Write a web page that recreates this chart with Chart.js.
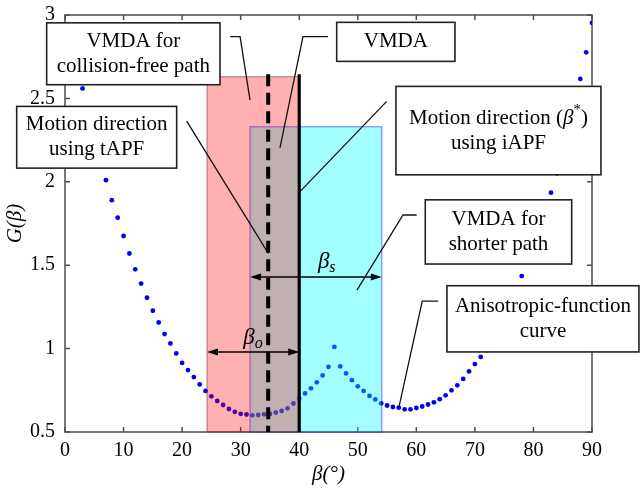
<!DOCTYPE html>
<html>
<head>
<meta charset="utf-8">
<script src="https://cdn.jsdelivr.net/npm/chart.js@4.4.1/dist/chart.umd.min.js"></script>
<style>
  html, body { margin: 0; padding: 0; background: #fff; }
  #wrap { width: 640px; height: 492px; }
</style>
</head>
<body>
<div id="wrap"><canvas id="chart" width="640" height="492"></canvas></div>
<script>
// anisotropic function samples, one per degree
const betaDeg = [0, 1, 2, 3, 4, 5, 6, 7, 8, 9, 10, 11, 12, 13, 14, 15, 16, 17, 18, 19, 20,
    21, 22, 23, 24, 25, 26, 27, 28, 29, 30, 31, 32, 33, 34, 35, 36, 37, 38, 39, 40,
    41, 42, 43, 44, 45, 46, 47, 48, 49, 50, 51, 52, 53, 54, 55, 56, 57, 58, 59, 60,
    61, 62, 63, 64, 65, 66, 67, 68, 69, 70, 71, 72, 73, 74, 75, 76, 77, 78, 79, 80,
    81, 82, 83, 84, 85, 86, 87, 88, 89, 90];
const gValues = [3.07, 2.89, 2.72, 2.56, 2.40, 2.26, 2.13, 2.01, 1.89, 1.785, 1.675,
    1.57, 1.475, 1.39, 1.305, 1.227, 1.157, 1.087, 1.031, 0.971, 0.914,
    0.871, 0.829, 0.785, 0.746, 0.714, 0.686, 0.662, 0.638, 0.621, 0.609,
    0.605, 0.600, 0.602, 0.606, 0.608, 0.617, 0.626, 0.642, 0.671, 0.70,
    0.731, 0.762, 0.798, 0.839, 0.890, 1.010, 0.893, 0.851, 0.811, 0.774,
    0.746, 0.716, 0.695, 0.672, 0.659, 0.650, 0.646, 0.636, 0.636, 0.644,
    0.653, 0.665, 0.678, 0.697, 0.720, 0.750, 0.780, 0.818, 0.863, 0.907,
    0.950, 0.99, 1.04, 1.10, 1.17, 1.25, 1.34, 1.435, 1.52, 1.61,
    1.71, 1.82, 1.935, 2.05, 2.17, 2.30, 2.45, 2.617, 2.776, 2.953];

const xTickValues = [0, 10, 20, 30, 40, 50, 60, 70, 80, 90];
const yTickValues = [0.5, 1, 1.5, 2, 2.5, 3];
const yTickLabels = ['0.5', '1', '1.5', '2', '2.5', '3'];

// VMDA regions [from, to] in degrees and their heights
const collisionFreeRange = [24.25, 40];
const collisionFreeTop = 2.63;
const shorterPathRange = [31.6, 54.1];
const shorterPathTop = 2.33;

// motion directions
const tapfDirection = 34.7;
const iapfDirection = 40;
const directionTop = 2.645;

// levels of the beta_o / beta_s span arrows
const betaOLevel = 0.98;
const betaSLevel = 1.43;

const SERIF = "'Liberation Serif', 'DejaVu Serif', serif";
Chart.defaults.font.family = SERIF;

// callout boxes in data units: box = [x1, x2, yTop, yBottom]
const callouts = [
    { lines: [[{ t: 'VMDA for' }], [{ t: 'collision-free path' }]],
      box: [-3.13, 26.47, 2.953, 2.582], leader: [[28.2, 2.87], [29.9, 2.87], [31.6, 2.49]] },
    { lines: [[{ t: 'VMDA' }]],
      box: [46.4, 66.6, 2.956, 2.722], leader: [[44.9, 2.87], [40.64, 2.87], [36.71, 2.204]] },
    { lines: [[{ t: 'Motion direction' }], [{ t: 'using tAPF' }]],
      box: [-8.25, 19.07, 2.452, 2.082], leader: [[20.78, 2.364], [34.72, 1.571]] },
    { lines: [[{ t: 'Motion direction (' }, { t: 'β', italic: true }, { t: '*', size: 15, dy: -8 }, { t: ')' }],
              [{ t: 'using iAPF' }]],
      box: [56.52, 91.53, 2.572, 2.042], leader: [[54.94, 2.482], [40.13, 1.941]] },
    { lines: [[{ t: 'VMDA for' }], [{ t: 'shorter path' }]],
      box: [61.53, 86.53, 1.892, 1.507], leader: [[60.06, 1.801], [57.72, 1.801], [49.86, 1.351]] },
    { lines: [[{ t: 'Anisotropic-function' }], [{ t: 'curve' }]],
      box: [65.23, 98.02, 1.377, 0.980], leader: [[63.75, 1.285], [61.01, 1.285], [57.04, 0.65]] }
];

const fontOf = r => `${r.italic ? 'italic ' : ''}${r.size || 21}px ${SERIF}`;

// draw a row of mixed-style text runs centred on (cx, cy)
function drawRuns(ctx, runs, cx, cy) {
    let total = 0;
    runs.forEach(r => {
        ctx.font = fontOf(r);
        r.w = ctx.measureText(r.t).width;
        total += r.w;
    });
    let x = cx - total / 2;
    ctx.textAlign = 'left';
    ctx.textBaseline = 'middle';
    runs.forEach(r => {
        ctx.font = fontOf(r);
        ctx.fillText(r.t, x, cy + (r.dy || 0));
        x += r.w;
    });
}

function arrowHead(ctx, x, y, dir) {
    ctx.beginPath();
    ctx.moveTo(x, y);
    ctx.lineTo(x - dir * 11, y - 3.5);
    ctx.lineTo(x - dir * 11, y + 3.5);
    ctx.closePath();
    ctx.fill();
}

function spanArrow(ctx, x1, x2, y) {
    ctx.strokeStyle = '#000';
    ctx.fillStyle = '#000';
    ctx.lineWidth = 1.5;
    ctx.beginPath();
    ctx.moveTo(x1 + 4, y);
    ctx.lineTo(x2 - 4, y);
    ctx.stroke();
    arrowHead(ctx, x1, y, -1);
    arrowHead(ctx, x2, y, 1);
}

const overlayPlugin = {
    id: 'overlay',
    // axis box with inward ticks, drawn under the points
    beforeDatasetsDraw(chart) {
        const ctx = chart.ctx;
        const { left, right, top, bottom } = chart.chartArea;
        const xs = chart.scales.x, ys = chart.scales.y;
        ctx.save();
        ctx.strokeStyle = '#4d4d4d';
        ctx.lineWidth = 1.5;
        ctx.strokeRect(left, top, right - left, bottom - top);
        ctx.beginPath();
        xTickValues.forEach(v => {
            const x = xs.getPixelForValue(v);
            ctx.moveTo(x, bottom); ctx.lineTo(x, bottom - 5);
            ctx.moveTo(x, top); ctx.lineTo(x, top + 5);
        });
        yTickValues.forEach(v => {
            const y = ys.getPixelForValue(v);
            ctx.moveTo(left, y); ctx.lineTo(left + 5, y);
            ctx.moveTo(right, y); ctx.lineTo(right - 5, y);
        });
        ctx.stroke();
        ctx.restore();
    },
    afterDatasetsDraw(chart) {
        const ctx = chart.ctx;
        const xs = chart.scales.x, ys = chart.scales.y;
        const px = v => xs.getPixelForValue(v);
        const py = v => ys.getPixelForValue(v);
        const base = py(0.5);
        ctx.save();

        // translucent VMDA regions (cyan first, red over it)
        let x1 = px(shorterPathRange[0]), x2 = px(shorterPathRange[1]), yt = py(shorterPathTop);
        ctx.fillStyle = 'rgba(0, 255, 255, 0.36)';
        ctx.fillRect(x1, yt, x2 - x1, base - yt);
        ctx.strokeStyle = 'rgba(0, 0, 255, 0.45)';
        ctx.lineWidth = 1.2;
        ctx.strokeRect(x1, yt, x2 - x1, base - yt);

        x1 = px(collisionFreeRange[0]); x2 = px(collisionFreeRange[1]); yt = py(collisionFreeTop);
        ctx.fillStyle = 'rgba(255, 0, 0, 0.31)';
        ctx.fillRect(x1, yt, x2 - x1, base - yt);
        ctx.strokeStyle = 'rgba(90, 40, 40, 0.55)';
        ctx.lineWidth = 1;
        ctx.strokeRect(x1, yt, x2 - x1, base - yt);

        // motion directions
        ctx.strokeStyle = '#000';
        ctx.lineWidth = 4;
        ctx.setLineDash([12, 6.5]);
        ctx.beginPath();
        ctx.moveTo(px(tapfDirection), py(directionTop));
        ctx.lineTo(px(tapfDirection), base);
        ctx.stroke();
        ctx.setLineDash([]);
        ctx.lineWidth = 3.2;
        ctx.beginPath();
        ctx.moveTo(px(iapfDirection), py(directionTop));
        ctx.lineTo(px(iapfDirection), base);
        ctx.stroke();

        // span arrows and labels
        spanArrow(ctx, px(collisionFreeRange[0]), px(collisionFreeRange[1]), py(betaOLevel));
        spanArrow(ctx, px(shorterPathRange[0]), px(shorterPathRange[1]), py(betaSLevel));
        ctx.fillStyle = '#000';
        drawRuns(ctx, [{ t: 'β', italic: true, size: 23 }, { t: 'o', italic: true, size: 16, dy: 6 }], px(32.1), py(1.063));
        drawRuns(ctx, [{ t: 'β', italic: true, size: 23 }, { t: 's', italic: true, size: 16, dy: 6 }], px(44.7), py(1.521));

        // callouts: leader lines then boxes
        callouts.forEach(c => {
            ctx.strokeStyle = '#111';
            ctx.lineWidth = 1.3;
            ctx.beginPath();
            c.leader.forEach((p, i) => {
                if (i === 0) ctx.moveTo(px(p[0]), py(p[1]));
                else ctx.lineTo(px(p[0]), py(p[1]));
            });
            ctx.stroke();
        });
        callouts.forEach(c => {
            const bx1 = px(c.box[0]), bx2 = px(c.box[1]);
            const by1 = py(c.box[2]), by2 = py(c.box[3]);
            ctx.fillStyle = '#fff';
            ctx.fillRect(bx1, by1, bx2 - bx1, by2 - by1);
            ctx.strokeStyle = '#222';
            ctx.lineWidth = 1.6;
            ctx.strokeRect(bx1, by1, bx2 - bx1, by2 - by1);
            ctx.fillStyle = '#000';
            const cx = (bx1 + bx2) / 2, cy = (by1 + by2) / 2;
            const n = c.lines.length;
            c.lines.forEach((runs, i) => {
                drawRuns(ctx, runs, cx, cy + (i - (n - 1) / 2) * 25);
            });
        });
        ctx.restore();
    }
};

const points = betaDeg.map((b, i) => ({ x: b, y: gValues[i] }));

new Chart(document.getElementById('chart'), {
    type: 'scatter',
    data: {
        datasets: [{
            label: 'G(β)',
            data: points,
            backgroundColor: '#0000f0',
            borderWidth: 0,
            pointRadius: 2.4
        }]
    },
    options: {
        responsive: false,
        devicePixelRatio: 1,
        animation: false,
        layout: { padding: { left: 0, right: 48, top: 15, bottom: 0 } },
        plugins: {
            legend: { display: false },
            tooltip: { enabled: false }
        },
        scales: {
            x: {
                type: 'linear',
                min: 0,
                max: 90,
                afterBuildTicks: s => { s.ticks = xTickValues.map(v => ({ value: v })); },
                afterFit: s => {
                    s.height = 60;
                    s.paddingLeft = 0;
                    s.paddingRight = 0;
                },
                grid: { display: false, drawTicks: false },
                border: { display: false },
                ticks: {
                    color: '#000',
                    padding: 7,
                    maxRotation: 0,
                    autoSkip: false,
                    font: { family: SERIF, size: 20 }
                },
                title: {
                    display: true,
                    text: 'β(°)',
                    color: '#000',
                    padding: { top: 0, bottom: 5 },
                    font: { family: SERIF, size: 21, style: 'italic' }
                }
            },
            y: {
                type: 'linear',
                min: 0.5,
                max: 3,
                afterBuildTicks: s => { s.ticks = yTickValues.map(v => ({ value: v })); },
                afterFit: s => {
                    s.width = 65;
                    s.paddingTop = 0;
                    s.paddingBottom = 0;
                },
                grid: { display: false, drawTicks: false },
                border: { display: false },
                ticks: {
                    color: '#000',
                    padding: 10,
                    autoSkip: false,
                    callback: v => yTickLabels[yTickValues.indexOf(v)],
                    font: { family: SERIF, size: 20 }
                },
                title: {
                    display: true,
                    text: 'G(β)',
                    color: '#000',
                    padding: { top: 3, bottom: 0 },
                    font: { family: SERIF, size: 21, style: 'italic' }
                }
            }
        }
    },
    plugins: [overlayPlugin]
});
</script>
</body>
</html>
